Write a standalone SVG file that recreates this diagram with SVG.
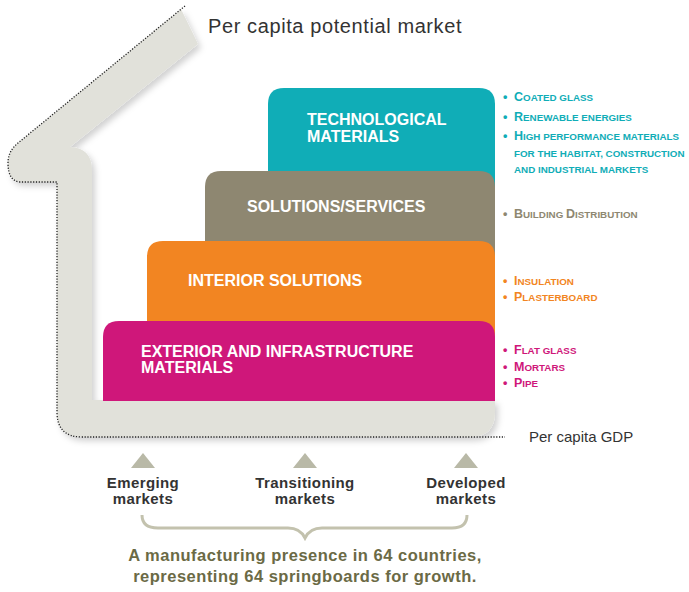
<svg xmlns="http://www.w3.org/2000/svg" width="689" height="592" viewBox="0 0 689 592">
<defs>
<filter id="sh" x="-10%" y="-10%" width="130%" height="130%">
<feDropShadow dx="3" dy="4" stdDeviation="3" flood-color="#000" flood-opacity="0.18"/>
</filter>
<style>
.box-t{font-family:"Liberation Sans",Arial,sans-serif;font-weight:bold;font-size:16px;fill:#fff}
.list{font-family:"Liberation Sans",Arial,sans-serif;font-weight:bold;font-size:12.5px}
.s{font-size:9.8px}
.mk{font-family:"Liberation Sans",Arial,sans-serif;font-weight:bold;font-size:15px;letter-spacing:0.4px;fill:#333;text-anchor:middle}
.axis{font-family:"Liberation Sans",Arial,sans-serif;fill:#333}
.foot{font-family:"Liberation Sans",Arial,sans-serif;font-weight:bold;font-size:16.5px;letter-spacing:0.5px;fill:#6b6a45;text-anchor:middle}
.tri{fill:#b9b9a7}
</style>
</defs>
<rect width="689" height="592" fill="#fff"/>

<g id="house">
<path d="M181,9 L198,44 L70,147 Q92,148 92,170 L92,400 L495,400 L495,412 Q495,437 470,437 L82,437 Q57,437 57,412 L57,182 L20,182 Q8,181 8,163 Q8,151 18,143 Z" fill="#e1e1da" filter="url(#sh)"/>
<path d="M185,6 L18,143 Q8,151 8,163 Q8,181 20,182 L57,182 L57,412 Q57,437 82,437 L505,437" fill="none" stroke="#222" stroke-width="1.3" stroke-dasharray="1.2,1.6"/>
</g>

<g id="technological">
<path d="M268,401 L268,104 Q268,88 284,88 L479,88 Q495,88 495,104 L495,401 Z" fill="#10adb7"/>
<text class="box-t" x="307" y="125">TECHNOLOGICAL</text>
<text class="box-t" x="307" y="142">MATERIALS</text>
</g>
<g id="solutions">
<path d="M205,401 L205,187 Q205,171 221,171 L479,171 Q495,171 495,187 L495,401 Z" fill="#8e8771"/>
<text class="box-t" x="247" y="212">SOLUTIONS/SERVICES</text>
</g>
<g id="interior">
<path d="M147,401 L147,257 Q147,241 163,241 L479,241 Q495,241 495,257 L495,401 Z" fill="#f28522"/>
<text class="box-t" x="188" y="286">INTERIOR SOLUTIONS</text>
</g>
<g id="exterior">
<path d="M103,401 L103,337 Q103,321 119,321 L479,321 Q495,321 495,337 L495,401 Z" fill="#cf177a"/>
<text class="box-t" x="141" y="357">EXTERIOR AND INFRASTRUCTURE</text>
<text class="box-t" x="141" y="373">MATERIALS</text>
</g>

<g id="lists">
<g fill="#10adb7" class="list">
<text x="503" y="101">•</text><text x="514" y="101">C<tspan class="s">OATED GLASS</tspan></text>
<text x="503" y="121">•</text><text x="514" y="121">R<tspan class="s">ENEWABLE ENERGIES</tspan></text>
<text x="503" y="140">•</text><text x="514" y="140">H<tspan class="s">IGH PERFORMANCE MATERIALS</tspan></text>
<text x="514" y="157"><tspan class="s">FOR THE HABITAT, CONSTRUCTION</tspan></text>
<text x="514" y="173"><tspan class="s">AND INDUSTRIAL MARKETS</tspan></text>
</g>
<g fill="#8e8771" class="list">
<text x="503" y="218">•</text><text x="514" y="218">B<tspan class="s">UILDING </tspan>D<tspan class="s">ISTRIBUTION</tspan></text>
</g>
<g fill="#f28522" class="list">
<text x="503" y="285">•</text><text x="514" y="285">I<tspan class="s">NSULATION</tspan></text>
<text x="503" y="301">•</text><text x="514" y="301">P<tspan class="s">LASTERBOARD</tspan></text>
</g>
<g fill="#cf177a" class="list">
<text x="503" y="354">•</text><text x="514" y="354">F<tspan class="s">LAT GLASS</tspan></text>
<text x="503" y="371">•</text><text x="514" y="371">M<tspan class="s">ORTARS</tspan></text>
<text x="503" y="387">•</text><text x="514" y="387">P<tspan class="s">IPE</tspan></text>
</g>
</g>

<text class="axis" x="208" y="33" font-size="20" letter-spacing="0.6">Per capita potential market</text>
<text class="axis" x="529" y="442" font-size="15">Per capita GDP</text>

<g id="emerging">
<path class="tri" d="M143,453 L155,468 L131,468 Z"/>
<text class="mk" x="143" y="488">Emerging</text>
<text class="mk" x="143" y="504">markets</text>
</g>
<g id="transitioning">
<path class="tri" d="M305,453 L317,468 L293,468 Z"/>
<text class="mk" x="305" y="488">Transitioning</text>
<text class="mk" x="305" y="504">markets</text>
</g>
<g id="developed">
<path class="tri" d="M466,453 L478,468 L454,468 Z"/>
<text class="mk" x="466" y="488">Developed</text>
<text class="mk" x="466" y="504">markets</text>
</g>

<g id="brace">
<path d="M142,515 Q142,528 158,528 L288,528 Q300,528 305,538 Q310,528 322,528 L452,528 Q467,528 467,515" fill="none" stroke="#c3c2ae" stroke-width="3"/>
</g>

<text class="foot" x="305" y="561">A manufacturing presence in 64 countries,</text>
<text class="foot" x="305" y="582">representing 64 springboards for growth.</text>
</svg>
